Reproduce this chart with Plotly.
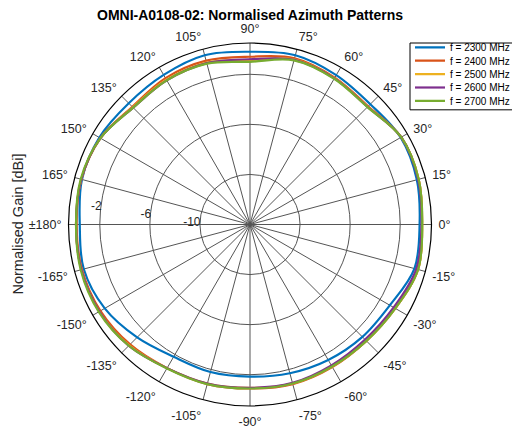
import plotly.graph_objects as go

angles = [0, 15, 30, 45, 60, 75, 90, 105, 120, 135, 150, 165, 180,
          195, 210, 225, 240, 255, 270, 285, 300, 315, 330, 345, 360]

gain_2300 = [-0.45, -0.2, -0.1, -0.41, -0.22, 0.0, -0.2, 0.0, -0.2, -0.3, -0.1, -0.1, -0.4,
             -0.25, -0.6, -1.25, -1.8, -1.8, -1.85, -1.7, -1.5, -1.3, -1.1, -0.4, -0.45]
gain_2400 = [-0.25, -0.05, -0.05, -0.65, -0.45, -0.25, -0.6, -0.45, -0.5, -0.7, -0.2, -0.05, -0.15,
             -0.1, -0.2, -0.45, -0.75, -0.8, -0.9, -0.8, -0.85, -0.85, -0.6, -0.1, -0.25]
gain_2500 = [-0.25, -0.05, -0.05, -0.7, -0.5, -0.35, -0.85, -0.6, -0.65, -0.75, -0.2, -0.05, -0.1,
             -0.05, -0.1, -0.35, -0.75, -0.85, -0.95, -0.85, -0.9, -0.85, -0.6, -0.1, -0.25]
gain_2600 = [-0.3, -0.1, -0.05, -0.72, -0.52, -0.38, -0.8, -0.65, -0.7, -0.8, -0.2, -0.05, -0.1,
             -0.05, -0.1, -0.3, -0.75, -0.85, -0.95, -0.9, -1.0, -1.0, -0.75, -0.25, -0.3]
gain_2700 = [-0.24, -0.05, -0.05, -0.73, -0.55, -0.42, -1.0, -0.7, -0.7, -0.8, -0.2, 0.0, -0.1,
             0.0, -0.05, -0.3, -0.72, -0.8, -0.9, -0.85, -0.9, -0.85, -0.6, -0.1, -0.24]

series_names = ["f = 2300 MHz", "f = 2400 MHz", "f = 2500 MHz", "f = 2600 MHz", "f = 2700 MHz"]
series_vals = [gain_2300, gain_2400, gain_2500, gain_2600, gain_2700]
colors = ["#0072BD", "#D95319", "#EDB120", "#7E2F8E", "#77AC30"]

tick_vals = list(range(0, 360, 15))
tick_text = ["0°", "15°", "30°", "45°", "60°", "75°", "90°", "105°", "120°", "135°", "150°", "165°",
             "±180°", "-165°", "-150°", "-135°", "-120°", "-105°", "-90°", "-75°", "-60°", "-45°",
             "-30°", "-15°"]
r_ticks = [-14, -10, -6, -2]
r_label_vals = [-10, -6, -2]
r_labels = ["-10", "-6", "-2"]
r_label_angle = 171

# page has an 8px body margin; figure is sized to fit the window inside it
W, H = 512, 422
ml, mr, mt, mb = 60, 88, 34.5, 23.5
PW, PH = W - ml - mr, H - mt - mb

fig = go.Figure()
fig.add_trace(go.Scatterpolar(r=r_label_vals, theta=[r_label_angle] * len(r_label_vals),
                              mode="text", text=r_labels, textposition="bottom left",
                              textfont=dict(size=12, color="#262626"),
                              showlegend=False, hoverinfo="skip"))

legend_rows = [39.3, 52.7, 66.1, 79.5, 92.9]   # row centres, figure px from top
for i, (name, vals, c) in enumerate(zip(series_names, series_vals, colors)):
    fig.add_trace(go.Scatterpolar(r=vals, theta=angles, mode="lines", name=name,
                                  legend="legend" if i == 0 else f"legend{i+1}",
                                  line=dict(color=c, width=2.2, shape="spline")))

legend_common = dict(xref="container", yref="container", x=402/W, xanchor="left",
                     yanchor="middle", bgcolor="rgba(0,0,0,0)", borderwidth=0,
                     font=dict(size=10, color="black"))
legends = {}
for i, yc in enumerate(legend_rows):
    key = "legend" if i == 0 else f"legend{i+1}"
    legends[key] = dict(legend_common, y=1 - yc / H)

# legend frame (figure px -> paper fractions)
bx0, bx1, by0, by1 = 402, 508, 34.5, 101.5
fig.add_shape(type="rect", xref="paper", yref="paper",
              x0=(bx0 - ml) / PW, x1=(bx1 - ml) / PW,
              y0=(H - mb - by1) / PH, y1=(H - mb - by0) / PH,
              line=dict(color="black", width=1), fillcolor="white", layer="below")

fig.update_layout(
    width=W, height=H,
    margin=dict(l=ml, r=mr, t=mt, b=mb, autoexpand=False),
    paper_bgcolor="white",
    font=dict(family="Liberation Sans, Arial, sans-serif", color="#262626", size=12),
    title=dict(text="<b>OMNI-A0108-02: Normalised Azimuth Patterns</b>",
               xref="container", yref="container", x=242/W, xanchor="center",
               y=1 - 2.5/H, yanchor="top", pad=dict(t=0, b=0),
               font=dict(size=14, color="black")),
    polar=dict(
        domain=dict(x=[0, 1], y=[0, 1]),
        bgcolor="rgba(0,0,0,0)",
        angularaxis=dict(rotation=0, direction="counterclockwise",
                         tickmode="array", tickvals=tick_vals, ticktext=tick_text,
                         showline=True, linecolor="black", linewidth=1.2,
                         ticks="outside", ticklen=4, tickcolor="rgba(0,0,0,0)",
                         showgrid=True, gridcolor="#555555", gridwidth=1,
                         tickfont=dict(size=12.5, color="#262626")),
        radialaxis=dict(range=[-14, 0.5], tickmode="array", tickvals=r_ticks,
                        angle=r_label_angle, showticklabels=False, showline=False, ticks="",
                        showgrid=True, gridcolor="#555555", gridwidth=1),
    ),
    annotations=[dict(text="Normalised Gain [dBi]", x=(9 - ml) / PW, y=0.5,
                      xref="paper", yref="paper", xanchor="center", yanchor="middle",
                      showarrow=False, textangle=-90, font=dict(size=14.5, color="#262626"))],
    **legends,
)

fig.write_html("out.html")
